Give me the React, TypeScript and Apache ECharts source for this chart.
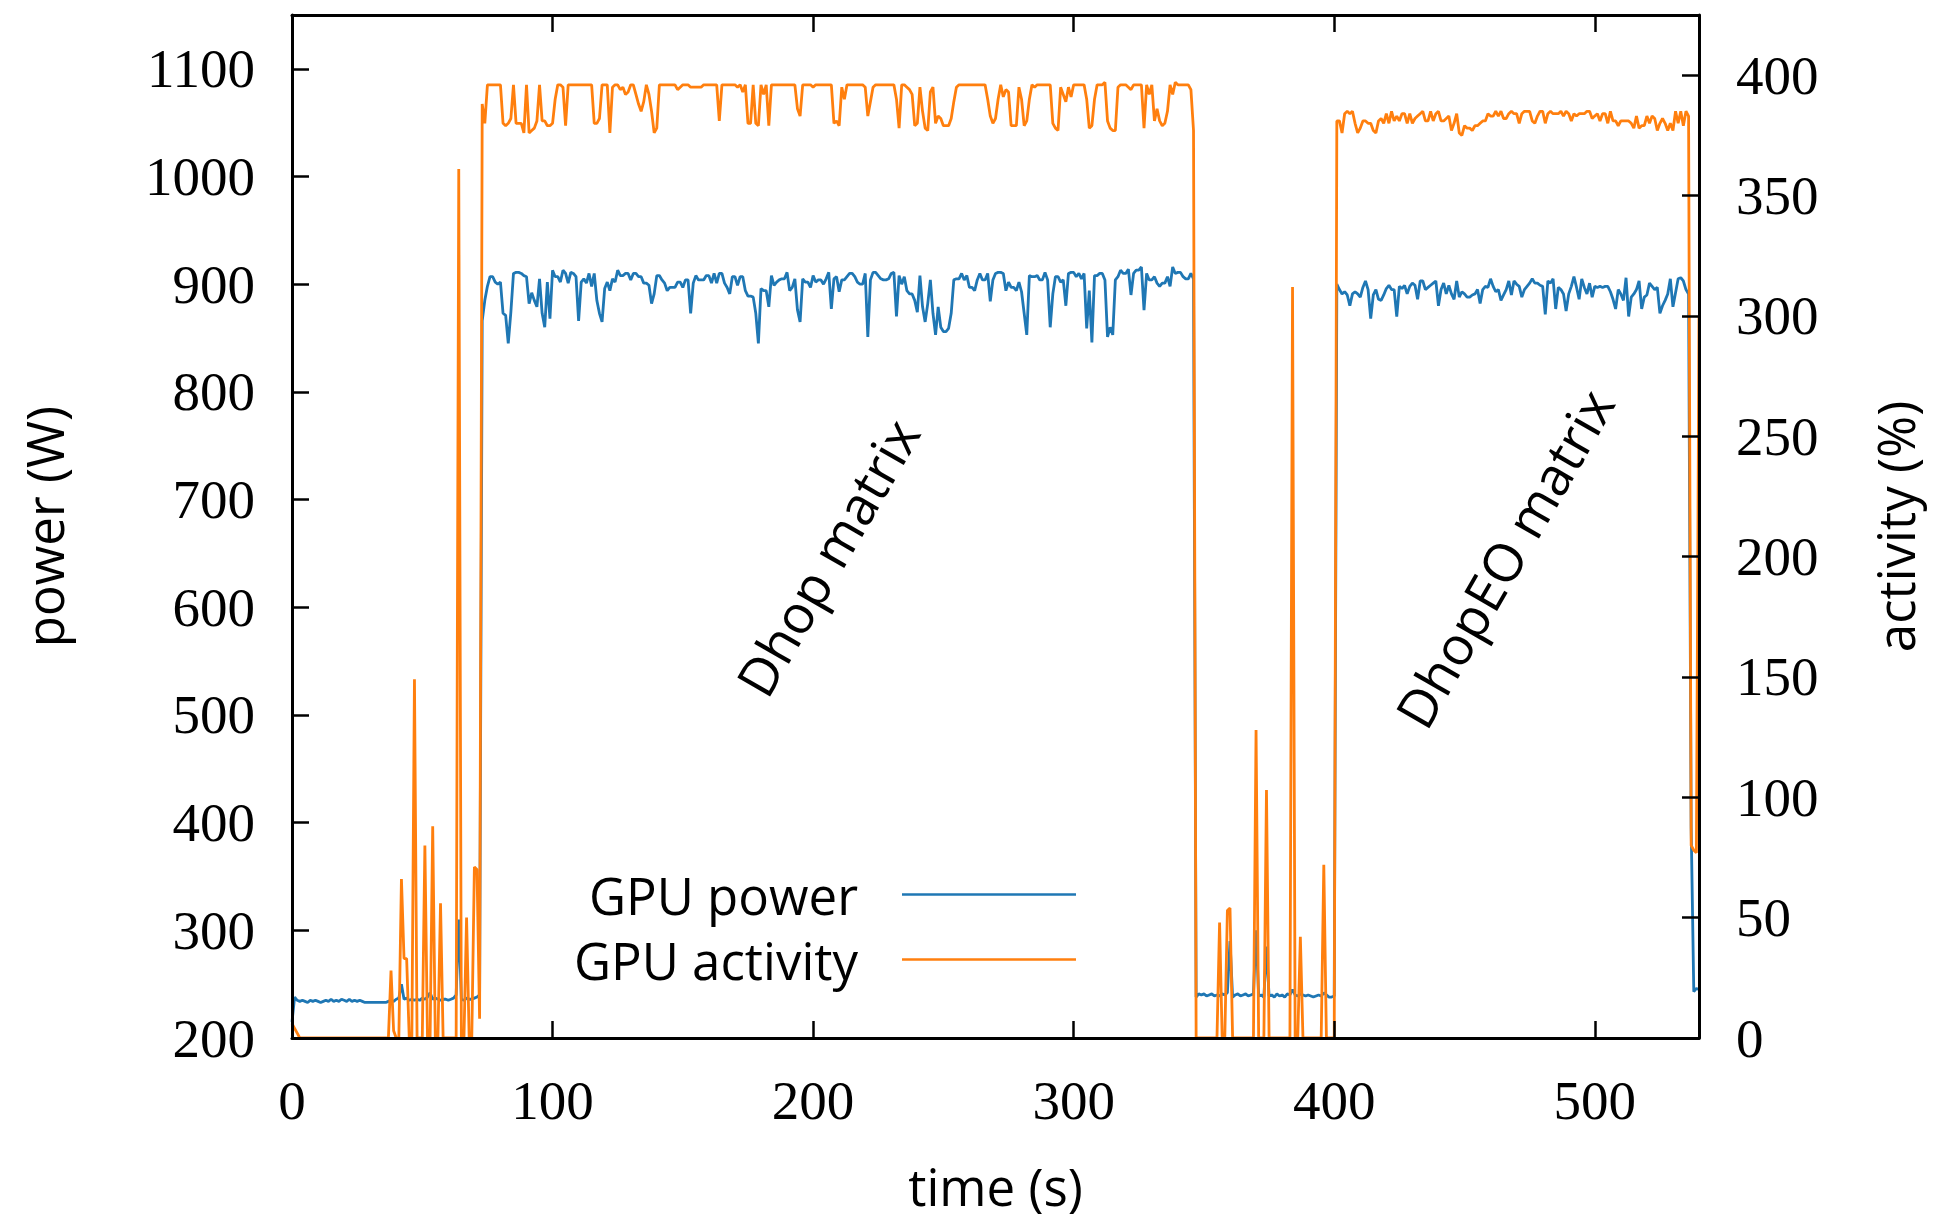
import React, { useEffect, useRef } from "react";
import * as echarts from "echarts";

// Sampling period of the measurement (one sample per second, t = 0 .. 540 s)
const SAMPLE_PERIOD_S = 1;

// GPU power (W), one value per sample
const POWER_W: number[] = [
  215, 238, 235, 234, 235, 234, 233, 235, 234, 235,
  234, 233, 234, 235, 234, 236, 234, 235, 234, 236,
  235, 234, 236, 234, 235, 234, 235, 234, 233, 233,
  233, 233, 233, 233, 233, 233, 233, 234, 235, 234,
  236, 237, 250, 236, 237, 235, 236, 235, 236, 235,
  237, 236, 238, 242, 236, 237, 236, 235, 236, 236,
  235, 236, 237, 240, 310, 236, 235, 237, 236, 236,
  237, 238, 240, 866, 885, 898, 907, 907, 902, 900,
  902, 873, 871, 845, 874, 910, 911, 911, 910, 908,
  907, 882, 892, 885, 879, 905, 873, 860, 902, 868,
  913, 907, 907, 902, 913, 910, 901, 911, 910, 907,
  866, 902, 905, 901, 910, 898, 910, 885, 873, 865,
  896, 902, 894, 905, 902, 913, 908, 908, 910, 910,
  904, 910, 910, 907, 907, 901, 901, 899, 882, 891,
  908, 908, 904, 901, 894, 897, 897, 897, 902, 902,
  897, 904, 904, 873, 901, 908, 904, 904, 904, 908,
  908, 901, 910, 901, 910, 910, 901, 897, 891, 907,
  907, 899, 907, 907, 894, 889, 889, 888, 873, 845,
  896, 894, 894, 879, 908, 899, 902, 904, 905, 905,
  911, 894, 897, 905, 876, 865, 905, 902, 902, 897,
  908, 902, 904, 904, 900, 905, 911, 877, 905, 907,
  893, 904, 904, 907, 910, 910, 907, 902, 900, 900,
  910, 851, 904, 911, 911, 908, 905, 904, 904, 905,
  910, 911, 870, 908, 900, 907, 894, 891, 891, 885,
  874, 908, 879, 865, 882, 904, 873, 853, 879, 860,
  856, 856, 859, 873, 904, 905, 905, 910, 904, 908,
  897, 897, 894, 904, 910, 904, 904, 910, 884, 904,
  910, 911, 911, 910, 894, 902, 897, 897, 894, 902,
  893, 873, 853, 908, 907, 907, 908, 904, 904, 911,
  904, 860, 891, 907, 907, 902, 904, 880, 910, 911,
  911, 907, 910, 905, 910, 859, 894, 846, 908, 908,
  910, 910, 904, 851, 860, 853, 904, 907, 913, 910,
  910, 914, 890, 910, 913, 913, 916, 876, 910, 904,
  904, 907, 901, 898, 901, 901, 907, 898, 916, 910,
  911, 911, 907, 905, 905, 910, 905, 238, 241, 240,
  241, 239, 240, 241, 239, 240, 239, 241, 240, 242,
  290, 238, 240, 241, 239, 240, 241, 239, 240, 241,
  300, 239, 240, 238, 285, 239, 240, 238, 241, 239,
  240, 238, 241, 240, 245, 240, 239, 241, 240, 239,
  240, 239, 238, 239, 240, 239, 242, 240, 238, 238,
  239, 900, 895, 891, 893, 890, 880, 891, 893, 891,
  888, 897, 903, 895, 868, 890, 895, 886, 885, 890,
  896, 899, 895, 895, 870, 898, 896, 899, 891, 898,
  901, 899, 886, 903, 903, 895, 897, 899, 901, 903,
  880, 895, 901, 891, 899, 891, 886, 903, 888, 893,
  891, 888, 888, 890, 891, 895, 882, 895, 898, 897,
  905, 898, 893, 895, 885, 890, 895, 903, 890, 903,
  900, 898, 888, 895, 898, 901, 905, 901, 901, 899,
  898, 872, 903, 901, 905, 877, 897, 895, 891, 875,
  891, 898, 907, 897, 886, 905, 897, 891, 901, 888,
  898, 897, 898, 897, 898, 898, 893, 886, 877, 895,
  891, 885, 906, 870, 888, 891, 895, 903, 877, 888,
  890, 901, 898, 895, 897, 873, 880, 885, 891, 905,
  879, 892, 905, 906, 903, 895, 891, 395, 243, 246,
  245,
];

// GPU activity (%), one value per sample
const ACTIVITY_PCT: number[] = [
  6, 4, 2, 0, 0, 0, 0, 0, 0, 0,
  0, 0, 0, 0, 0, 0, 0, 0, 0, 0,
  0, 0, 0, 0, 0, 0, 0, 0, 0, 0,
  0, 0, 0, 0, 0, 0, 0, 0, 28, 3,
  0, 0, 66, 33, 33, 0, 0, 149, 0, 0,
  0, 80, 0, 0, 88, 0, 0, 56, 0, 0,
  0, 0, 0, 0, 361, 0, 0, 50, 0, 0,
  71, 70, 8, 388, 380, 396, 396, 396, 396, 396,
  396, 380, 379, 380, 382, 396, 380, 380, 380, 376,
  396, 376, 377, 378, 381, 396, 381, 381, 379, 379,
  380, 390, 396, 396, 395, 379, 396, 396, 396, 396,
  396, 396, 396, 396, 396, 396, 380, 380, 382, 396,
  396, 396, 376, 395, 396, 396, 394, 395, 392, 393,
  396, 396, 392, 388, 385, 389, 396, 392, 385, 376,
  378, 396, 396, 396, 396, 396, 396, 396, 394, 395,
  396, 396, 396, 395, 395, 395, 395, 395, 396, 396,
  396, 396, 396, 396, 381, 396, 396, 396, 396, 396,
  396, 395, 396, 393, 396, 380, 380, 396, 380, 379,
  396, 392, 396, 379, 396, 396, 396, 396, 396, 396,
  396, 396, 396, 396, 386, 383, 396, 396, 396, 396,
  395, 396, 396, 396, 396, 396, 396, 396, 380, 381,
  379, 395, 390, 396, 396, 396, 396, 396, 396, 396,
  395, 383, 389, 395, 396, 396, 396, 396, 396, 396,
  396, 396, 390, 378, 396, 396, 395, 394, 392, 379,
  380, 395, 385, 378, 377, 393, 395, 380, 383, 382,
  379, 379, 379, 382, 389, 395, 396, 396, 396, 396,
  396, 396, 396, 396, 396, 396, 396, 390, 383, 380,
  382, 390, 396, 391, 394, 393, 379, 379, 379, 395,
  390, 379, 381, 390, 396, 395, 396, 396, 396, 396,
  396, 396, 380, 378, 377, 395, 392, 389, 395, 391,
  396, 396, 396, 396, 396, 390, 378, 379, 390, 396,
  396, 396, 397, 381, 378, 377, 377, 395, 396, 396,
  396, 395, 394, 396, 396, 396, 396, 378, 396, 392,
  396, 381, 386, 381, 379, 380, 385, 396, 392, 397,
  396, 396, 396, 396, 396, 394, 377, 0, 0, 0,
  0, 0, 0, 0, 0, 0, 48, 0, 0, 53,
  54, 0, 0, 0, 0, 0, 0, 0, 0, 0,
  128, 0, 0, 0, 103, 0, 0, 0, 0, 0,
  0, 0, 0, 0, 312, 0, 0, 42, 0, 0,
  0, 0, 0, 0, 0, 0, 72, 0, 0, 0,
  0, 381, 381, 376, 384, 385, 384, 385, 380, 376,
  378, 381, 381, 380, 380, 377, 376, 381, 382, 380,
  384, 380, 385, 381, 383, 381, 384, 384, 380, 384,
  380, 382, 383, 384, 385, 381, 381, 385, 381, 384,
  385, 381, 381, 382, 383, 377, 380, 384, 376, 375,
  379, 378, 378, 377, 379, 379, 380, 381, 381, 384,
  383, 383, 385, 383, 385, 382, 382, 384, 385, 384,
  384, 380, 384, 385, 385, 385, 381, 380, 383, 385,
  385, 380, 384, 385, 384, 384, 384, 385, 383, 385,
  384, 381, 384, 383, 384, 384, 384, 385, 385, 382,
  383, 384, 381, 384, 384, 380, 385, 381, 381, 379,
  381, 381, 381, 381, 380, 378, 383, 378, 379, 379,
  383, 380, 383, 382, 377, 380, 382, 380, 377, 380,
  377, 385, 380, 385, 379, 385, 383, 80, 78, 77,
  300,
];

const SERIES_NAMES = ["GPU power", "GPU activity"];
const SERIES_COLORS = ["#1f77b4", "#ff7f0e"];
const ANNOTATION_TEXTS = ["Dhop matrix", "DhopEO matrix"];

const SERIF = '"Liberation Serif", "Times New Roman", serif';
const SANS = '"Open Sans", "Noto Sans", sans-serif';

const toPairs = (vals: number[]) => vals.map((v, i) => [i * SAMPLE_PERIOD_S, v]);
const plainNumber = (v: number) => String(v);

export default function App() {
  const ref = useRef<HTMLDivElement>(null);

  useEffect(() => {
    if (!ref.current) return;
    const chart = echarts.init(ref.current, undefined, { renderer: "svg" });

    const axisLine = { show: true, onZero: false, lineStyle: { color: "#000", width: 3 } };
    const axisTick = { show: true, inside: true, length: 17, lineStyle: { color: "#000", width: 2.5 } };
    const tickLabel = {
      fontFamily: SERIF,
      fontSize: 55,
      color: "#000",
      showMaxLabel: false,
      formatter: plainNumber,
    };
    const nameStyle = { fontFamily: SANS, fontSize: 51, color: "#000" };

    const legendCommon = {
      orient: "vertical",
      align: "right",
      icon: "rect",
      itemWidth: 174,
      itemHeight: 2.5,
      padding: 0,
      right: 873,
      selectedMode: false,
      textStyle: { fontFamily: SANS, fontSize: 51, color: "#000", padding: [0, 39, 0, 0] },
    };

    const annotationStyle = {
      fontFamily: SANS,
      fontSize: 53,
      fill: "#000",
      align: "center",
      verticalAlign: "middle",
      textAlign: "center",
      textVerticalAlign: "middle",
    };

    chart.setOption({
      animation: false,
      backgroundColor: "#ffffff",
      grid: { left: 292, right: 250, top: 15, bottom: 182, containLabel: false },
      xAxis: [
        {
          type: "value",
          min: 0,
          max: 540,
          interval: 100,
          position: "bottom",
          z: 5,
          name: "time (s)",
          nameLocation: "middle",
          nameGap: 122,
          nameTextStyle: nameStyle,
          axisLine,
          axisTick,
          axisLabel: { ...tickLabel, margin: 35 },
          splitLine: { show: false },
        },
        {
          type: "value",
          min: 0,
          max: 540,
          interval: 100,
          position: "top",
          z: 5,
          axisLine,
          axisTick,
          axisLabel: { show: false },
          splitLine: { show: false },
        },
      ],
      yAxis: [
        {
          type: "value",
          min: 200,
          max: 1150,
          interval: 100,
          position: "left",
          z: 5,
          name: "power (W)",
          nameLocation: "middle",
          nameGap: 223,
          nameTextStyle: nameStyle,
          axisLine,
          axisTick,
          axisLabel: { ...tickLabel, margin: 37 },
          splitLine: { show: false },
        },
        {
          type: "value",
          min: 0,
          max: 425,
          interval: 50,
          position: "right",
          z: 5,
          name: "activity (%)",
          nameLocation: "middle",
          nameGap: 170,
          nameTextStyle: nameStyle,
          axisLine,
          axisTick,
          axisLabel: { ...tickLabel, margin: 37 },
          splitLine: { show: false },
        },
      ],
      legend: [
        { ...legendCommon, data: [SERIES_NAMES[0]], top: 869 },
        { ...legendCommon, data: [SERIES_NAMES[1]], top: 934 },
      ],
      series: [
        {
          name: SERIES_NAMES[0],
          type: "line",
          xAxisIndex: 0,
          yAxisIndex: 0,
          data: toPairs(POWER_W),
          showSymbol: false,
          symbol: "none",
          color: SERIES_COLORS[0],
          lineStyle: { color: SERIES_COLORS[0], width: 2.8 },
          itemStyle: { color: SERIES_COLORS[0] },
        },
        {
          name: SERIES_NAMES[1],
          type: "line",
          xAxisIndex: 0,
          yAxisIndex: 1,
          data: toPairs(ACTIVITY_PCT),
          showSymbol: false,
          symbol: "none",
          color: SERIES_COLORS[1],
          lineStyle: { color: SERIES_COLORS[1], width: 2.8 },
          itemStyle: { color: SERIES_COLORS[1] },
        },
      ],
      graphic: [
        {
          type: "text",
          x: 827,
          y: 557,
          rotation: Math.PI / 3,
          silent: true,
          style: { ...annotationStyle, text: ANNOTATION_TEXTS[0] },
        },
        {
          type: "text",
          x: 1504,
          y: 558,
          rotation: Math.PI / 3,
          silent: true,
          style: { ...annotationStyle, text: ANNOTATION_TEXTS[1] },
        },
      ],
    });

    return () => chart.dispose();
  }, []);

  return (
    <div
      ref={ref}
      style={{ position: "fixed", left: 0, top: 0, width: 1949, height: 1220, background: "#fff" }}
    />
  );
}
